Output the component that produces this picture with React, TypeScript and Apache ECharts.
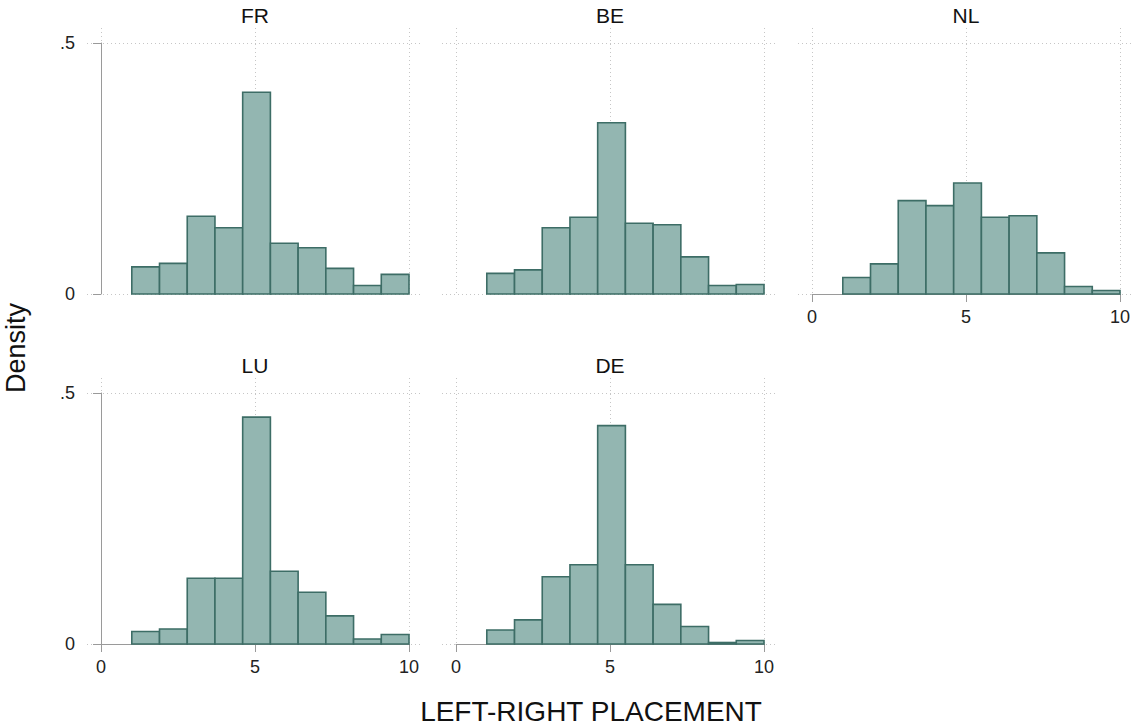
import React, { useEffect, useRef } from "react";
import * as echarts from "echarts";

const panelNames = ["FR", "BE", "NL", "LU", "DE"];
const binEdges = [1, 1.9, 2.8, 3.7, 4.6, 5.5, 6.4, 7.3, 8.2, 9.1, 10];
const densFR = [0.054, 0.061, 0.155, 0.132, 0.402, 0.101, 0.092, 0.051, 0.017, 0.039];
const densBE = [0.041, 0.048, 0.132, 0.153, 0.341, 0.141, 0.138, 0.074, 0.017, 0.019];
const densNL = [0.033, 0.06, 0.186, 0.176, 0.221, 0.153, 0.156, 0.082, 0.015, 0.007];
const densLU = [0.025, 0.03, 0.131, 0.131, 0.452, 0.145, 0.103, 0.056, 0.01, 0.019];
const densDE = [0.028, 0.048, 0.134, 0.158, 0.435, 0.158, 0.079, 0.035, 0.003, 0.007];
const xTicks = [0, 5, 10];
const yTicks = [0, 0.5];
const xTitle = "LEFT-RIGHT PLACEMENT";
const yTitle = "Density";

const FONT = "'Liberation Sans', Arial, sans-serif";
const FILL = "#93b6b1";
const EDGE = "#3d6d66";
const GRIDC = "#c6c6c6";
const AXISC = "#9a9a9a";

export default function App() {
  const ref = useRef<HTMLDivElement>(null);
  useEffect(() => {
    document.body.style.margin = "0";
    const chart = echarts.init(ref.current!, null, { renderer: "svg" });
    const allDens = [densFR, densBE, densNL, densLU, densDE];
    const colX = [101, 456, 812];
    const rowY = [43, 393];
    const W = 308;
    const H = 251;
    const padX = 14;
    const padTop = 15;
    const pxPerX = W / 10;
    const pxPerY = H / 0.5;
    const showX = [false, false, true, true, true];
    const showY = [true, false, false, true, false];

    const grids: any[] = [];
    const xAxes: any[] = [];
    const yAxes: any[] = [];
    const series: any[] = [];
    const graphics: any[] = [];

    panelNames.forEach((name, i) => {
      const c = i % 3;
      const r = Math.floor(i / 3);
      const left = colX[c];
      const top = rowY[r];
      const gb = grids.length;
      grids.push({ left: left - padX, top: top - padTop, width: W + 2 * padX, height: H + padTop });
      xAxes.push({
        type: "value",
        gridIndex: gb,
        min: -padX / pxPerX,
        max: 10 + padX / pxPerX,
        axisLine: { show: false },
        axisTick: { show: false, customValues: xTicks },
        axisLabel: { show: false, customValues: xTicks },
        splitLine: { show: true, lineStyle: { color: GRIDC, type: [1, 3], width: 1 } },
      });
      yAxes.push({
        type: "value",
        gridIndex: gb,
        min: 0,
        max: 0.5 + padTop / pxPerY,
        axisLine: { show: false },
        axisTick: { show: false, customValues: yTicks },
        axisLabel: { show: false, customValues: yTicks },
        splitLine: { show: true, lineStyle: { color: GRIDC, type: [1, 3], width: 1 } },
      });
      const gd = grids.length;
      grids.push({ left, top, width: W, height: H });
      xAxes.push({
        type: "value",
        gridIndex: gd,
        min: 0,
        max: 10,
        interval: 5,
        show: showX[i],
        axisLine: { show: true, lineStyle: { color: AXISC, width: 1 } },
        axisTick: { show: true, length: 8, lineStyle: { color: AXISC } },
        axisLabel: { show: true, margin: 14, color: "#222", fontSize: 18, fontFamily: FONT },
        splitLine: { show: false },
      });
      yAxes.push({
        type: "value",
        gridIndex: gd,
        min: 0,
        max: 0.5,
        interval: 0.5,
        show: showY[i],
        offset: 13,
        axisLine: { show: true, lineStyle: { color: AXISC, width: 1 } },
        axisTick: { show: true, length: 8, lineStyle: { color: AXISC } },
        axisLabel: {
          show: true,
          margin: 13,
          color: "#222",
          fontSize: 18,
          fontFamily: FONT,
          formatter: (v: number) => (v === 0 ? "0" : String(v).replace(/^0/, "")),
        },
        splitLine: { show: false },
      });
      const dens = allDens[i];
      series.push({
        type: "custom",
        name,
        xAxisIndex: gd,
        yAxisIndex: gd,
        encode: { x: [0, 1], y: 2 },
        data: dens.map((d, k) => [binEdges[k], binEdges[k + 1], d]),
        renderItem: (params: any, api: any) => {
          const p0 = api.coord([api.value(0), api.value(2)]);
          const p1 = api.coord([api.value(1), 0]);
          return {
            type: "rect",
            shape: { x: p0[0], y: p0[1], width: p1[0] - p0[0], height: p1[1] - p0[1] },
            style: { fill: FILL, stroke: EDGE, lineWidth: 1.6 },
          };
        },
      });
      graphics.push({
        type: "text",
        x: left + W / 2,
        y: top - 28,
        style: {
          text: name,
          font: `21px ${FONT}`,
          fill: "#111",
          textAlign: "center",
          textVerticalAlign: "middle",
        },
      });
    });

    graphics.push({
      type: "text",
      x: 591,
      y: 711,
      style: { text: xTitle, font: `28px ${FONT}`, fill: "#111", textAlign: "center", textVerticalAlign: "middle" },
    });
    graphics.push({
      type: "text",
      x: 16,
      y: 348,
      rotation: Math.PI / 2,
      style: { text: yTitle, font: `27px ${FONT}`, fill: "#111", textAlign: "center", textVerticalAlign: "middle" },
    });

    chart.setOption({
      animation: false,
      backgroundColor: "#ffffff",
      grid: grids,
      xAxis: xAxes,
      yAxis: yAxes,
      series,
      graphic: graphics,
    });
    return () => chart.dispose();
  }, []);
  return <div ref={ref} style={{ width: 1134, height: 728 }} />;
}
